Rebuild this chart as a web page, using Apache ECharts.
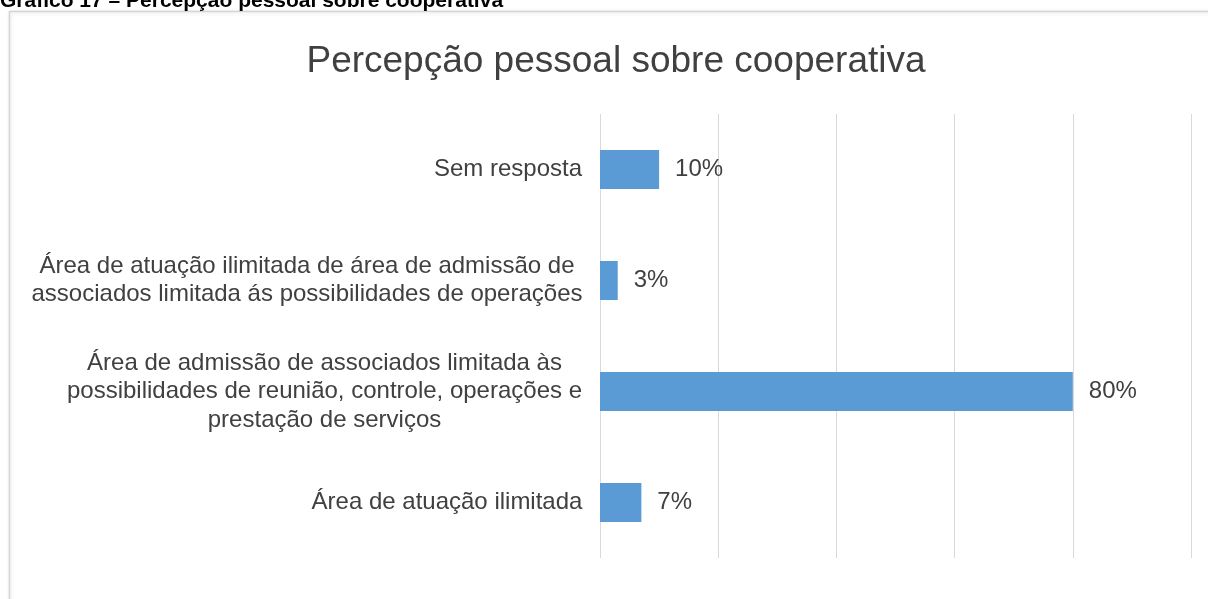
<!DOCTYPE html>
<html>
<head>
<meta charset="utf-8">
<style>
html,body{margin:0;padding:0;background:#fff;}
#chart{width:1208px;height:599px;}
</style>
<script src="https://cdn.jsdelivr.net/npm/echarts@6/dist/echarts.min.js"></script>
</head>
<body>
<div id="chart"></div>
<script>
// Data (top to bottom as in the picture)
const categories = [
  "Sem resposta",
  "Área de atuação ilimitada de área de admissão de\nassociados limitada ás possibilidades de operações",
  "Área de admissão de associados limitada às\npossibilidades de reunião, controle, operações e\nprestação de serviços",
  "Área de atuação ilimitada"
];
const values = [10, 3, 80, 7];
const xTicks = [0, 20, 40, 60, 80, 100];
const headerText = "Gráfico 17 – Percepção pessoal sobre cooperativa";
const titleText = "Percepção pessoal sobre cooperativa";

const FONT = '"Liberation Sans", Arial, sans-serif';
const LABEL_SIZE = 24;

// measure widest line of each label so the lines can be centered within their block
const cv = document.createElement('canvas').getContext('2d');
cv.font = LABEL_SIZE + 'px "Liberation Sans"';
const rich = {};
categories.forEach((c, i) => {
  const w = Math.max(...c.split('\n').map(l => cv.measureText(l).width));
  rich['w' + i] = {
    width: Math.ceil(w) + 1, align: 'center',
    fontSize: LABEL_SIZE, lineHeight: 28.5, color: '#404040', fontFamily: FONT
  };
});

const chart = echarts.init(document.getElementById('chart'), null, {renderer: 'canvas'});
chart.setOption({
  animation: false,
  backgroundColor: '#fff',
  graphic: [
    {
      type: 'rect', z: -10,
      shape: {x: 9.5, y: 11.5, width: 1220, height: 620},
      style: {fill: '#fff', stroke: '#d4d4d4', lineWidth: 1.5,
              shadowBlur: 4, shadowColor: 'rgba(0,0,0,0.12)', shadowOffsetX: 1, shadowOffsetY: 1}
    },
    {
      type: 'text', left: 0, top: -9,
      style: {text: headerText, font: 'bold 21px ' + FONT, fill: '#000'}
    }
  ],
  title: {
    text: titleText,
    left: 611, textAlign: 'center', top: 38,
    textStyle: {fontFamily: FONT, fontSize: 37, fontWeight: 'normal', color: '#404040'}
  },
  grid: {left: 600, top: 114, width: 591, height: 444, containLabel: false},
  xAxis: {
    type: 'value', min: xTicks[0], max: xTicks[xTicks.length - 1], interval: xTicks[1] - xTicks[0],
    axisLabel: {show: false}, axisLine: {show: false}, axisTick: {show: false},
    splitLine: {show: true, lineStyle: {color: '#d9d9d9', width: 1}}
  },
  yAxis: {
    type: 'category', inverse: true, data: categories,
    axisLine: {show: false}, axisTick: {show: false},
    axisLabel: {
      margin: 17, align: 'right',
      formatter: (v, idx) => v.split('\n').map(l => '{w' + idx + '|' + l + '}').join('\n'),
      rich: rich
    }
  },
  series: [{
    type: 'bar', data: values, barWidth: 39,
    itemStyle: {color: '#5b9bd5'},
    label: {
      show: true, position: 'right', distance: 16,
      formatter: '{c}%', fontFamily: FONT, fontSize: LABEL_SIZE, color: '#404040'
    }
  }]
});
</script>
</body>
</html>
